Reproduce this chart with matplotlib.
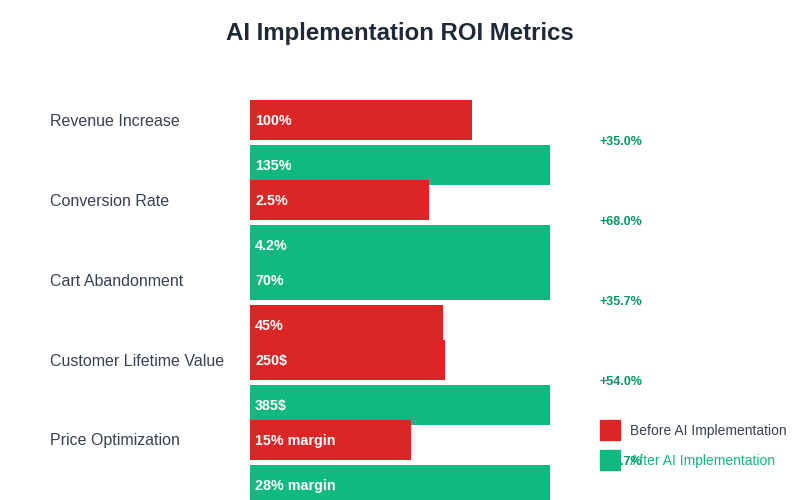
import matplotlib.pyplot as plt

plt.rcParams['font.family'] = ['Liberation Sans', 'DejaVu Sans']

# data
metrics = ['Revenue Increase', 'Conversion Rate', 'Cart Abandonment',
           'Customer Lifetime Value', 'Price Optimization']
top_vals = [100, 2.5, 70, 250, 15]
bottom_vals = [135, 4.2, 45, 385, 28]
top_labels = ['100%', '2.5%', '70%', '250$', '15% margin']
bottom_labels = ['135%', '4.2%', '45%', '385$', '28% margin']
top_colors = ['red', 'red', 'green', 'red', 'red']
bottom_colors = ['green', 'green', 'red', 'green', 'green']
changes = ['+35.0%', '+68.0%', '+35.7%', '+54.0%', '+86.7%']

RED = '#DC2626'
GREEN = '#10B981'
cmap = {'red': RED, 'green': GREEN}

fig = plt.figure(figsize=(8, 5), dpi=100)
ax = fig.add_axes([0, 0, 1, 1])
ax.set_xlim(0, 800)
ax.set_ylim(500, 0)
ax.axis('off')

fig.text(0.5, 1 - 33 / 500, 'AI Implementation ROI Metrics', ha='center', va='center',
         fontsize=17.3, fontweight='bold', color='#1f2937')

x0 = 250
full = 300
for i, m in enumerate(metrics):
    c = 120 + 80 * i
    mx = max(top_vals[i], bottom_vals[i])
    ax.text(50, c + 1, m, ha='left', va='center', fontsize=11.5, color='#374151')
    ax.barh(c, full * top_vals[i] / mx, height=40, left=x0,
            color=cmap[top_colors[i]], align='center')
    ax.text(x0 + 5, c + 1, top_labels[i], ha='left', va='center', fontsize=10.3,
            fontweight='bold', color='white')
    cb = c + 45
    ax.barh(cb, full * bottom_vals[i] / mx, height=40, left=x0,
            color=cmap[bottom_colors[i]], align='center')
    ax.text(x0 + 5, cb + 1, bottom_labels[i], ha='left', va='center', fontsize=10.3,
            fontweight='bold', color='white')
    ax.text(600, c + 22, changes[i], ha='left', va='center', fontsize=9,
            fontweight='bold', color='#059669')

# legend
ax.add_patch(plt.Rectangle((600, 420), 20, 20, color=RED, zorder=5))
ax.text(630, 431, 'Before AI Implementation', ha='left', va='center',
        fontsize=10, color='#374151', zorder=5)
ax.add_patch(plt.Rectangle((600, 450), 20, 20, color=GREEN, zorder=5))
ax.text(630, 461, 'After AI Implementation', ha='left', va='center',
        fontsize=10, color=GREEN, zorder=5)

fig.savefig('out.png', dpi=100)
